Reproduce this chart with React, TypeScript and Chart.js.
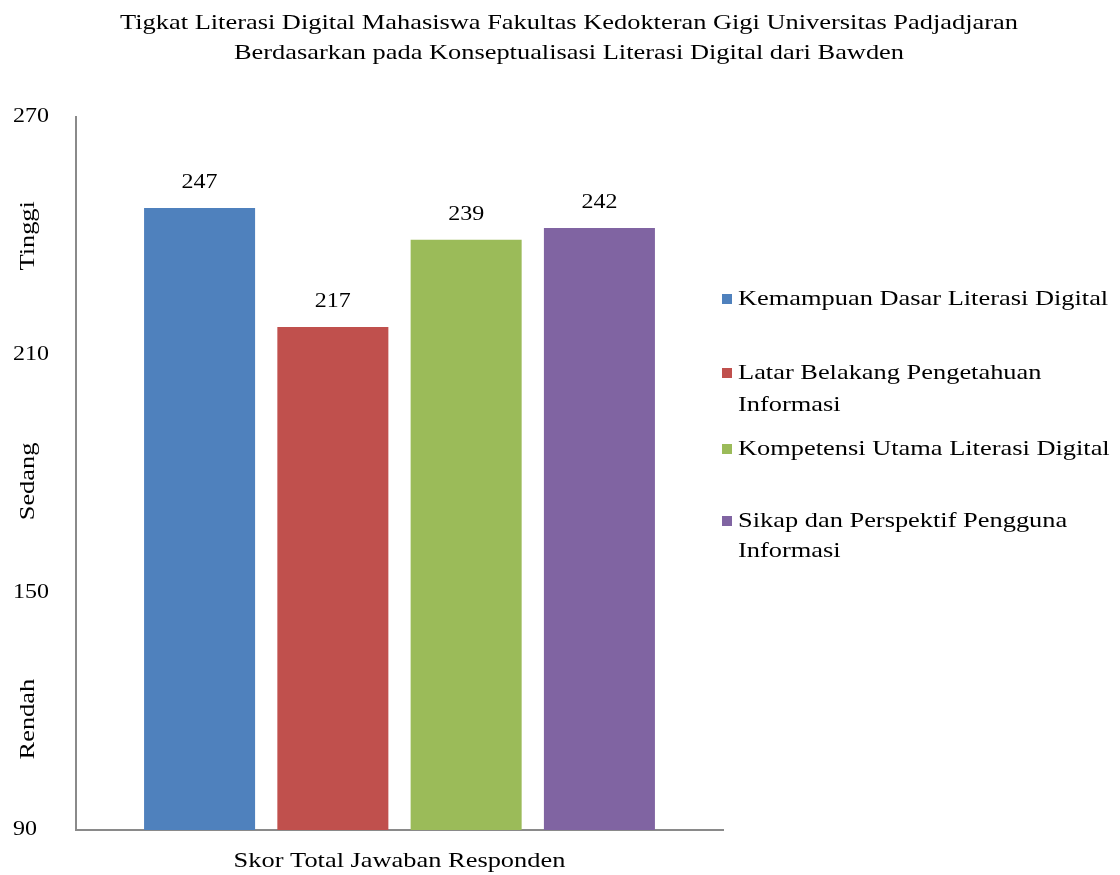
import React, { useEffect, useRef } from "react";
import { Chart, registerables } from "chart.js";

Chart.register(...registerables);

// ---- data ----
const titleLines = [
  "Tigkat Literasi Digital Mahasiswa Fakultas Kedokteran Gigi Universitas Padjadjaran",
  "Berdasarkan pada Konseptualisasi Literasi Digital dari Bawden",
];
const categories = ["Skor Total Jawaban Responden"];
const seriesNames = [
  ["Kemampuan Dasar Literasi Digital"],
  ["Latar Belakang Pengetahuan", "Informasi"],
  ["Kompetensi Utama Literasi Digital"],
  ["Sikap dan Perspektif Pengguna", "Informasi"],
];
const seriesValues = [247, 217, 239, 242];
const seriesColors = ["#4F81BD", "#C0504D", "#9BBB59", "#8064A2"];
const yMin = 90;
const yMax = 270;
const yStep = 60;
const levelLabels = ["Tinggi", "Sedang", "Rendah"];
const levelValues = [240, 178, 118];

const FONT = '"Liberation Serif", "Times New Roman", serif';
const SX = 1.2;

function stretchText(
  ctx: CanvasRenderingContext2D,
  text: string,
  x: number,
  y: number,
  align: CanvasTextAlign,
  rotate = 0
) {
  ctx.save();
  ctx.translate(x, y);
  if (rotate) ctx.rotate(rotate);
  ctx.scale(SX, 1);
  ctx.textAlign = align;
  ctx.textBaseline = "middle";
  ctx.fillText(text, 0, 0);
  ctx.restore();
}

const decorPlugin = {
  id: "decor",
  afterDraw(chart: any) {
    const ctx: CanvasRenderingContext2D = chart.ctx;
    const yScale = chart.scales.y;
    const xScale = chart.scales.x;
    ctx.save();
    ctx.fillStyle = "#000";

    // title
    ctx.font = `22px ${FONT}`;
    const titleY = [23, 53];
    titleLines.forEach((t, i) => stretchText(ctx, t, 569, titleY[i], "center"));

    // level labels (rotated)
    levelLabels.forEach((lab, i) => {
      stretchText(ctx, lab, 28, yScale.getPixelForValue(levelValues[i]), "center", -Math.PI / 2);
    });

    // category label
    categories.forEach((c, i) => {
      stretchText(ctx, c, xScale.getPixelForTick(i), 861, "center");
    });

    // legend
    const legendY = [[299], [373, 405], [449], [521, 551]];
    seriesNames.forEach((lines, i) => {
      ctx.fillStyle = seriesColors[i];
      ctx.fillRect(722, legendY[i][0] - 5, 10, 10);
      ctx.fillStyle = "#000";
      lines.forEach((ln, k) => stretchText(ctx, ln, 738, legendY[i][k], "left"));
    });

    // y tick labels
    ctx.font = `20px ${FONT}`;
    yScale.ticks.forEach((tk: any) => {
      stretchText(ctx, String(tk.value), 13, yScale.getPixelForValue(tk.value), "left");
    });

    // value labels
    chart.data.datasets.forEach((ds: any, di: number) => {
      const meta = chart.getDatasetMeta(di);
      meta.data.forEach((bar: any, j: number) => {
        stretchText(ctx, String(ds.data[j]), bar.x, bar.y - 25, "center");
      });
    });
    ctx.restore();
  },
};

export default function App() {
  const ref = useRef<HTMLCanvasElement | null>(null);
  useEffect(() => {
    if (!ref.current) return;
    const chart = new Chart(ref.current, {
      type: "bar",
      data: {
        labels: categories,
        datasets: seriesNames.map((n, i) => ({
          label: n.join(" "),
          data: [seriesValues[i]],
          backgroundColor: seriesColors[i],
          borderWidth: 0,
          categoryPercentage: 0.824,
          barPercentage: 0.833,
        })),
      },
      options: {
        responsive: false,
        animation: false,
        devicePixelRatio: 1,
        layout: { padding: { left: 0, right: 397, top: 117, bottom: 0 } },
        plugins: {
          legend: { display: false },
          title: { display: false },
          tooltip: { enabled: false },
        },
        scales: {
          x: {
            grid: { display: false, drawTicks: false },
            border: { display: true, color: "#8a8a8a", width: 2 },
            ticks: { display: false },
            afterFit: (s: any) => {
              s.height = 45;
            },
          },
          y: {
            min: yMin,
            max: yMax,
            grid: { display: false, drawTicks: false },
            border: { display: true, color: "#8a8a8a", width: 2 },
            ticks: { display: false, stepSize: yStep },
            afterFit: (s: any) => {
              s.width = 76;
            },
          },
        },
      },
      plugins: [decorPlugin],
    });
    return () => chart.destroy();
  }, []);
  return (
    <canvas
      ref={ref}
      width={1120}
      height={875}
      style={{ position: "fixed", left: 0, top: 0, width: 1120, height: 875, background: "#fff" }}
    />
  );
}
